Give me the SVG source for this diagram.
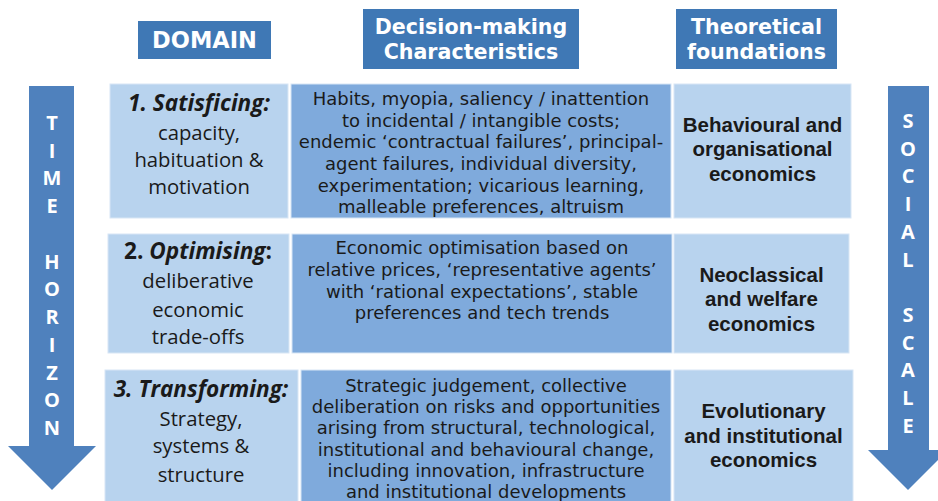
<svg xmlns="http://www.w3.org/2000/svg" width="938" height="501" viewBox="0 0 938 501">
<style>
.hdr{fill:#3F78B5}
.hdrt{font-family:"DejaVu Sans",Verdana,sans-serif;font-weight:bold;fill:#fff;text-anchor:middle;font-size:20.6px}
.arrow{fill:#4F81BD}
.arrt{font-family:"Open Sans",sans-serif;font-weight:bold;fill:#fff;text-anchor:middle;font-size:20px}
.light{fill:#B8D3EE;stroke:#D8E6F5;stroke-width:1}
.mid{fill:#7FAADC;stroke:#D8E6F5;stroke-width:1}
.dom{font-family:"Open Sans",sans-serif;fill:#1a1a1a;text-anchor:middle;font-size:20.3px}
.domh{font-weight:bold;font-style:italic;font-size:22.6px}
.dec{font-family:"DejaVu Sans",Verdana,sans-serif;fill:#1a1a1a;text-anchor:middle;font-size:18px}
.th{font-family:"Liberation Sans",Arial,sans-serif;font-weight:bold;fill:#1a1a1a;text-anchor:middle;font-size:20.5px}
</style>
<rect width="938" height="501" fill="#fff"/>

<g id="header-domain">
<rect class="hdr" x="138" y="21" width="133" height="38"/>
<text class="hdrt" x="204.5" y="48" style="font-size:22.5px">DOMAIN</text>
</g>
<g id="header-decision">
<rect class="hdr" x="363" y="9" width="216" height="60"/>
<text class="hdrt" x="471" y="34">Decision-making</text>
<text class="hdrt" x="471" y="59">Characteristics</text>
</g>
<g id="header-theory">
<rect class="hdr" x="676" y="9" width="161" height="60"/>
<text class="hdrt" x="756.5" y="34">Theoretical</text>
<text class="hdrt" x="756.5" y="59">foundations</text>
</g>

<g id="arrow-time">
<polygon class="arrow" points="29,86 74,86 74,446 96,446 52,490 8,446 29,446"/>
<text class="arrt" x="52" y="130">T</text>
<text class="arrt" x="52" y="158">I</text>
<text class="arrt" x="52" y="185">M</text>
<text class="arrt" x="52" y="213">E</text>
<text class="arrt" x="52" y="269">H</text>
<text class="arrt" x="52" y="296">O</text>
<text class="arrt" x="52" y="324">R</text>
<text class="arrt" x="52" y="352">I</text>
<text class="arrt" x="52" y="380">Z</text>
<text class="arrt" x="52" y="407">O</text>
<text class="arrt" x="52" y="435">N</text>
</g>
<g id="arrow-social">
<polygon class="arrow" points="888,86 929,86 929,450 948,450 908,490 868,450 888,450"/>
<text class="arrt" x="908" y="128">S</text>
<text class="arrt" x="908" y="156">O</text>
<text class="arrt" x="908" y="183">C</text>
<text class="arrt" x="908" y="211">I</text>
<text class="arrt" x="908" y="239">A</text>
<text class="arrt" x="908" y="267">L</text>
<text class="arrt" x="908" y="322">S</text>
<text class="arrt" x="908" y="350">C</text>
<text class="arrt" x="908" y="377">A</text>
<text class="arrt" x="908" y="405">L</text>
<text class="arrt" x="908" y="433">E</text>
</g>

<g id="row1-domain">
<rect class="light" x="110" y="84" width="178" height="134"/>
<text class="dom" x="199" y="111"><tspan class="domh">1. Satisficing:</tspan></text>
<text class="dom" x="199" y="140">capacity,</text>
<text class="dom" x="199" y="167">habituation &amp;</text>
<text class="dom" x="199" y="194">motivation</text>
</g>
<g id="row1-decision">
<rect class="mid" x="291" y="84" width="380" height="134"/>
<text class="dec" x="481" y="105">Habits, myopia, saliency / inattention</text>
<text class="dec" x="481" y="127">to incidental / intangible costs;</text>
<text class="dec" x="481" y="148">endemic ‘contractual failures’, principal-</text>
<text class="dec" x="481" y="170">agent failures, individual diversity,</text>
<text class="dec" x="481" y="192">experimentation; vicarious learning,</text>
<text class="dec" x="481" y="213">malleable preferences, altruism</text>
</g>
<g id="row1-theory">
<rect class="light" x="674" y="84" width="177" height="134"/>
<text class="th" x="762.5" y="132">Behavioural and</text>
<text class="th" x="762.5" y="156">organisational</text>
<text class="th" x="762.5" y="181">economics</text>
</g>

<g id="row2-domain">
<rect class="light" x="108" y="234" width="181" height="119"/>
<text class="dom" x="198" y="259" style="font-weight:bold;font-size:22.6px">2. <tspan font-style="italic">Optimising</tspan>:</text>
<text class="dom" x="198" y="288">deliberative</text>
<text class="dom" x="198" y="317">economic</text>
<text class="dom" x="198" y="344">trade-offs</text>
</g>
<g id="row2-decision">
<rect class="mid" x="292" y="234" width="380" height="119"/>
<text class="dec" x="482" y="254">Economic optimisation based on</text>
<text class="dec" x="482" y="276">relative prices, ‘representative agents’</text>
<text class="dec" x="482" y="298">with ‘rational expectations’, stable</text>
<text class="dec" x="482" y="319">preferences and tech trends</text>
</g>
<g id="row2-theory">
<rect class="light" x="674" y="234" width="175" height="119"/>
<text class="th" x="761.5" y="282">Neoclassical</text>
<text class="th" x="761.5" y="306">and welfare</text>
<text class="th" x="761.5" y="331">economics</text>
</g>

<g id="row3-domain">
<rect class="light" x="105" y="370" width="193" height="135"/>
<text class="dom" x="201" y="397"><tspan class="domh">3. Transforming:</tspan></text>
<text class="dom" x="201" y="426">Strategy,</text>
<text class="dom" x="201" y="453">systems &amp;</text>
<text class="dom" x="201" y="482">structure</text>
</g>
<g id="row3-decision">
<rect class="mid" x="301" y="370" width="370" height="135"/>
<text class="dec" x="486" y="392">Strategic judgement, collective</text>
<text class="dec" x="486" y="413">deliberation on risks and opportunities</text>
<text class="dec" x="486" y="434">arising from structural, technological,</text>
<text class="dec" x="486" y="456">institutional and behavioural change,</text>
<text class="dec" x="486" y="477">including innovation, infrastructure</text>
<text class="dec" x="486" y="498">and institutional developments</text>
</g>
<g id="row3-theory">
<rect class="light" x="674" y="370" width="179" height="135"/>
<text class="th" x="763.5" y="418">Evolutionary</text>
<text class="th" x="763.5" y="443">and institutional</text>
<text class="th" x="763.5" y="467">economics</text>
</g>

<g id="connectors"></g>
</svg>
